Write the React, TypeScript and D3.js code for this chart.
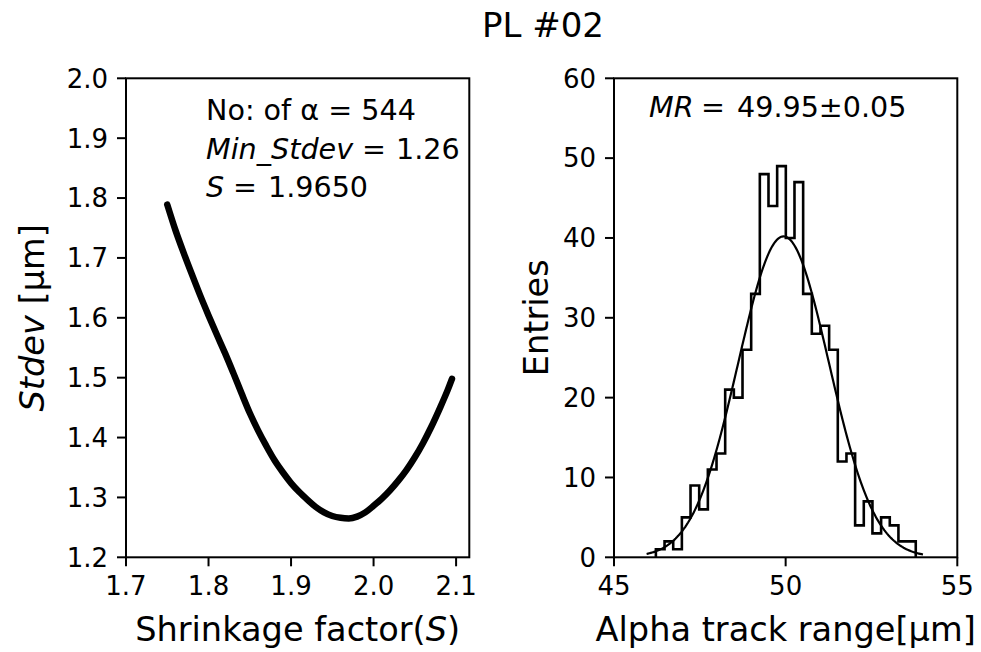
import React from "react";
import * as d3 from "d3";

// ---------- Data ----------
const TITLE = "PL #02";

// Left panel: Stdev vs shrinkage factor S
const S_VALUES = [
  1.75, 1.76, 1.77, 1.78, 1.79, 1.8, 1.81, 1.82, 1.83, 1.84, 1.85, 1.86, 1.87, 1.88,
  1.89, 1.9, 1.91, 1.92, 1.93, 1.94, 1.95, 1.96, 1.97, 1.98, 1.99, 2.0, 2.01, 2.02,
  2.03, 2.04, 2.05, 2.06, 2.07, 2.08, 2.09, 2.095,
];
const STDEV_VALUES = [
  1.789, 1.746, 1.708, 1.672, 1.637, 1.604, 1.572, 1.541, 1.508, 1.474, 1.441, 1.412,
  1.386, 1.362, 1.342, 1.324, 1.309, 1.296, 1.284, 1.275, 1.269, 1.266, 1.265, 1.268,
  1.275, 1.286, 1.298, 1.312, 1.328, 1.346, 1.367, 1.391, 1.418, 1.448, 1.48, 1.498,
];
const LEFT_X_TICKS = [1.7, 1.8, 1.9, 2.0, 2.1];
const LEFT_Y_TICKS = [1.2, 1.3, 1.4, 1.5, 1.6, 1.7, 1.8, 1.9, 2.0];

// Right panel: histogram of alpha track range
const HIST_MIN = 46.22;
const HIST_MAX = 53.79;
const HIST_COUNTS = [
  1, 2, 1, 5, 9, 6, 11, 13, 21, 20, 26, 33, 48, 44, 49, 40, 47, 33, 28, 29, 26, 12, 13,
  4, 7, 3, 5, 4, 2, 2,
];
// Gaussian fit parameters
const FIT_AMPLITUDE = 40.2;
const FIT_MEAN = 49.94;
const FIT_SIGMA = 1.32;
const FIT_RANGE = [45.95, 54.0];
const RIGHT_X_TICKS = [45, 50, 55];
const RIGHT_Y_TICKS = [0, 10, 20, 30, 40, 50, 60];

// ---------- Layout ----------
const W = 981;
const H = 652;
const TOP = 78.3;
const BOTTOM = 557.3;
const L_LEFT = 126;
const L_RIGHT = 469.3;
const R_LEFT = 614;
const R_RIGHT = 957.3;
const FONT = "'DejaVu Sans', sans-serif";
const TICK_FS = 26;
const TEXT_FS = 28.6;
const LABEL_FS = 33.6;
const TITLE_FS = 34;
const TICK_LEN = 9;
const TICK_PAD = 9;
const LW = 2;

export default function App() {
  React.useEffect(() => {
    document.body.style.margin = "0";
  }, []);

  const xL = d3.scaleLinear().domain([1.7, 2.116]).range([L_LEFT, L_RIGHT]);
  const yL = d3.scaleLinear().domain([1.2, 2.0]).range([BOTTOM, TOP]);
  const xR = d3.scaleLinear().domain([45, 55]).range([R_LEFT, R_RIGHT]);
  const yR = d3.scaleLinear().domain([0, 60]).range([BOTTOM, TOP]);

  const pts: [number, number][] = S_VALUES.map((s, i) => [s, STDEV_VALUES[i]]);
  const leftLine = d3
    .line<[number, number]>()
    .x((d) => xL(d[0]))
    .y((d) => yL(d[1]))
    .curve(d3.curveMonotoneX)(pts);

  const nb = HIST_COUNTS.length;
  const bw = (HIST_MAX - HIST_MIN) / nb;
  let hist = `M${xR(HIST_MIN)},${yR(0)}`;
  HIST_COUNTS.forEach((c, i) => {
    hist += `V${yR(c)}H${xR(HIST_MIN + (i + 1) * bw)}`;
  });
  hist += `V${yR(0)}`;

  const fitX = d3.range(0, 201).map((i) => FIT_RANGE[0] + ((FIT_RANGE[1] - FIT_RANGE[0]) * i) / 200);
  const fitLine = d3
    .line<number>()
    .x((x) => xR(x))
    .y((x) => yR(FIT_AMPLITUDE * Math.exp(-((x - FIT_MEAN) ** 2) / (2 * FIT_SIGMA ** 2))))
    .curve(d3.curveLinear)(fitX);

  const fmt1 = d3.format(".1f");

  const axes = (
    x: d3.ScaleLinear<number, number>,
    y: d3.ScaleLinear<number, number>,
    xt: number[],
    yt: number[],
    fx: (v: number) => string,
    fy: (v: number) => string,
    left: number,
    right: number
  ) => (
    <g>
      <rect x={left} y={TOP} width={right - left} height={BOTTOM - TOP} fill="none" stroke="#000" strokeWidth={LW} />
      {xt.map((t) => (
        <g key={"x" + t}>
          <line x1={x(t)} x2={x(t)} y1={BOTTOM} y2={BOTTOM + TICK_LEN} stroke="#000" strokeWidth={LW} />
          <text x={x(t)} y={BOTTOM + TICK_LEN + TICK_PAD + TICK_FS * 0.76} textAnchor="middle" fontSize={TICK_FS} fontFamily={FONT}>
            {fx(t)}
          </text>
        </g>
      ))}
      {yt.map((t) => (
        <g key={"y" + t}>
          <line x1={left - TICK_LEN} x2={left} y1={y(t)} y2={y(t)} stroke="#000" strokeWidth={LW} />
          <text x={left - TICK_LEN - TICK_PAD} y={y(t) + TICK_FS * 0.36} textAnchor="end" fontSize={TICK_FS} fontFamily={FONT}>
            {fy(t)}
          </text>
        </g>
      ))}
    </g>
  );

  return (
    <svg width={W} height={H} style={{ position: "absolute", left: 0, top: 0, background: "#fff" }} fontFamily={FONT}>
      <rect x={0} y={0} width={W} height={H} fill="#fff" />
      <text x={543} y={37} textAnchor="middle" fontSize={TITLE_FS}>
        {TITLE}
      </text>

      {/* Left panel */}
      <path d={leftLine || ""} fill="none" stroke="#000" strokeWidth={6.5} strokeLinecap="round" strokeLinejoin="round" />
      {axes(xL, yL, LEFT_X_TICKS, LEFT_Y_TICKS, fmt1, fmt1, L_LEFT, L_RIGHT)}
      <g fontSize={TEXT_FS}>
        <text x={206} y={120}>No: of α = 544</text>
        <text x={206} y={159}>
          <tspan fontStyle="italic">Min_Stdev</tspan>
        </text>
        <text x={362} y={159}>=</text>
        <text x={396} y={159}>1.26</text>
        <text x={206} y={197}>
          <tspan fontStyle="italic">S</tspan>
        </text>
        <text x={233} y={197}>=</text>
        <text x={268} y={197}>1.9650</text>

        <text x={649} y={117}>
          <tspan fontStyle="italic">MR</tspan>
        </text>
        <text x={701} y={117}>=</text>
        <text x={737} y={117}>49.95±0.05</text>
      </g>
      <text transform={`translate(44,${(TOP + BOTTOM) / 2}) rotate(-90)`} textAnchor="middle" fontSize={LABEL_FS}>
        <tspan fontStyle="italic">Stdev</tspan> [μm]
      </text>
      <text x={(L_LEFT + L_RIGHT) / 2} y={641} textAnchor="middle" fontSize={LABEL_FS}>
        Shrinkage factor(<tspan fontStyle="italic">S</tspan>)
      </text>

      {/* Right panel */}
      <path d={hist} fill="none" stroke="#000" strokeWidth={2.6} strokeLinejoin="miter" />
      <path d={fitLine || ""} fill="none" stroke="#000" strokeWidth={2.2} />
      {axes(xR, yR, RIGHT_X_TICKS, RIGHT_Y_TICKS, (v) => String(v), (v) => String(v), R_LEFT, R_RIGHT)}
      <text transform={`translate(548,${(TOP + BOTTOM) / 2}) rotate(-90)`} textAnchor="middle" fontSize={LABEL_FS}>
        Entries
      </text>
      <text x={(R_LEFT + R_RIGHT) / 2} y={641} textAnchor="middle" fontSize={LABEL_FS}>
        Alpha track range[μm]
      </text>
    </svg>
  );
}
